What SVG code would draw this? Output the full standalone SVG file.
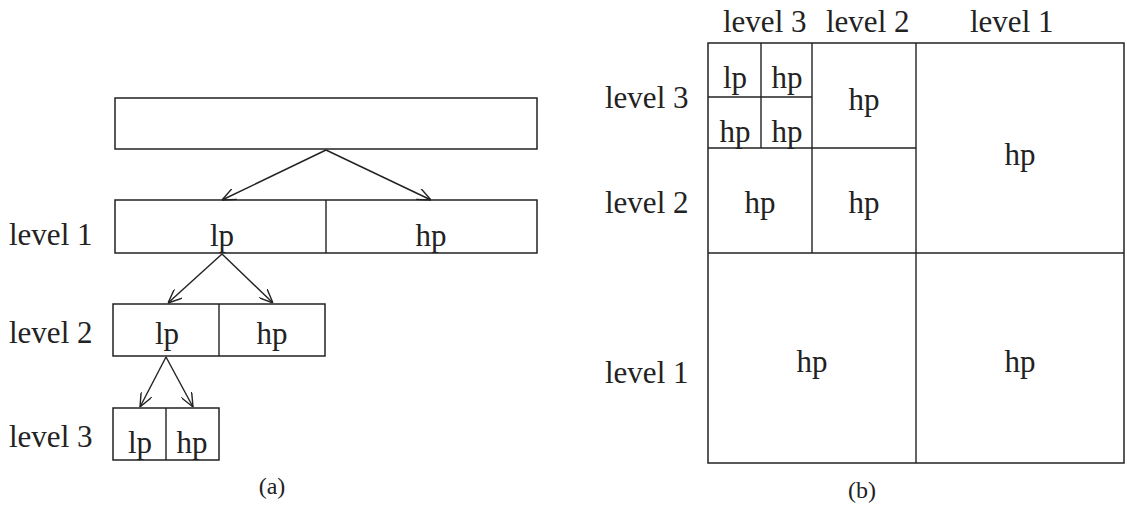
<svg xmlns="http://www.w3.org/2000/svg" width="1127" height="505" viewBox="0 0 1127 505">
<defs>
<style>
.b{fill:none;stroke:#222;stroke-width:1.5}
.l{stroke:#222;stroke-width:1.4;fill:none}
.t{font-family:"Liberation Serif","Times New Roman",serif;font-size:31px;fill:#222}
.c{text-anchor:middle}
.s{font-size:24px}
</style>
<marker id="ah" viewBox="0 0 14 12" refX="14" refY="6" markerWidth="14" markerHeight="12" markerUnits="userSpaceOnUse" orient="auto">
<path d="M0,0 L14,6 L0,12" fill="none" stroke="#222" stroke-width="1.4"/>
</marker>
</defs>
<rect width="1127" height="505" fill="#fff"/>
<g id="a-root"><rect class="b" x="115" y="98" width="422" height="51"/></g>
<g id="a-level1">
<rect class="b" x="115" y="200" width="422" height="53"/>
<line class="l" x1="326" y1="200" x2="326" y2="253"/>
<text class="t c" x="222" y="246">lp</text>
<text class="t c" x="431" y="246">hp</text>
<text class="t" x="9" y="245">level 1</text>
</g>
<g id="a-level2">
<rect class="b" x="113" y="304" width="212" height="52"/>
<line class="l" x1="219" y1="304" x2="219" y2="356"/>
<text class="t c" x="167" y="344">lp</text>
<text class="t c" x="272" y="344">hp</text>
<text class="t" x="9" y="343">level 2</text>
</g>
<g id="a-level3">
<rect class="b" x="113" y="408" width="106" height="52"/>
<line class="l" x1="166" y1="408" x2="166" y2="460"/>
<text class="t c" x="140" y="453">lp</text>
<text class="t c" x="192" y="453">hp</text>
<text class="t" x="9" y="447">level 3</text>
</g>
<g id="connectors">
<line class="l" x1="326" y1="150" x2="222" y2="200" marker-end="url(#ah)"/>
<line class="l" x1="326" y1="150" x2="431" y2="200" marker-end="url(#ah)"/>
<line class="l" x1="222" y1="254" x2="168" y2="303" marker-end="url(#ah)"/>
<line class="l" x1="222" y1="254" x2="273" y2="303" marker-end="url(#ah)"/>
<line class="l" x1="166" y1="357" x2="140" y2="407" marker-end="url(#ah)"/>
<line class="l" x1="166" y1="357" x2="193" y2="407" marker-end="url(#ah)"/>
</g>
<text class="t s c" x="272" y="494">(a)</text>
<g id="b-grid">
<rect class="b" x="708" y="43" width="416" height="420"/>
<line class="l" x1="761" y1="43" x2="761" y2="148"/>
<line class="l" x1="812" y1="43" x2="812" y2="253"/>
<line class="l" x1="916" y1="43" x2="916" y2="463"/>
<line class="l" x1="708" y1="97" x2="812" y2="97"/>
<line class="l" x1="708" y1="148" x2="916" y2="148"/>
<line class="l" x1="708" y1="253" x2="1124" y2="253"/>
</g>
<g id="b-labels">
<text class="t" x="723" y="32">level 3</text>
<text class="t" x="826" y="32">level 2</text>
<text class="t" x="970" y="32">level 1</text>
<text class="t" x="605" y="108">level 3</text>
<text class="t" x="605" y="213">level 2</text>
<text class="t" x="605" y="383">level 1</text>
</g>
<g id="b-cells">
<text class="t c" x="735" y="88">lp</text>
<text class="t c" x="787" y="88">hp</text>
<text class="t c" x="735" y="142">hp</text>
<text class="t c" x="787" y="142">hp</text>
<text class="t c" x="864" y="110">hp</text>
<text class="t c" x="1020" y="165">hp</text>
<text class="t c" x="760" y="213">hp</text>
<text class="t c" x="864" y="213">hp</text>
<text class="t c" x="812" y="372">hp</text>
<text class="t c" x="1020" y="372">hp</text>
</g>
<text class="t s c" x="862" y="498">(b)</text>
</svg>
